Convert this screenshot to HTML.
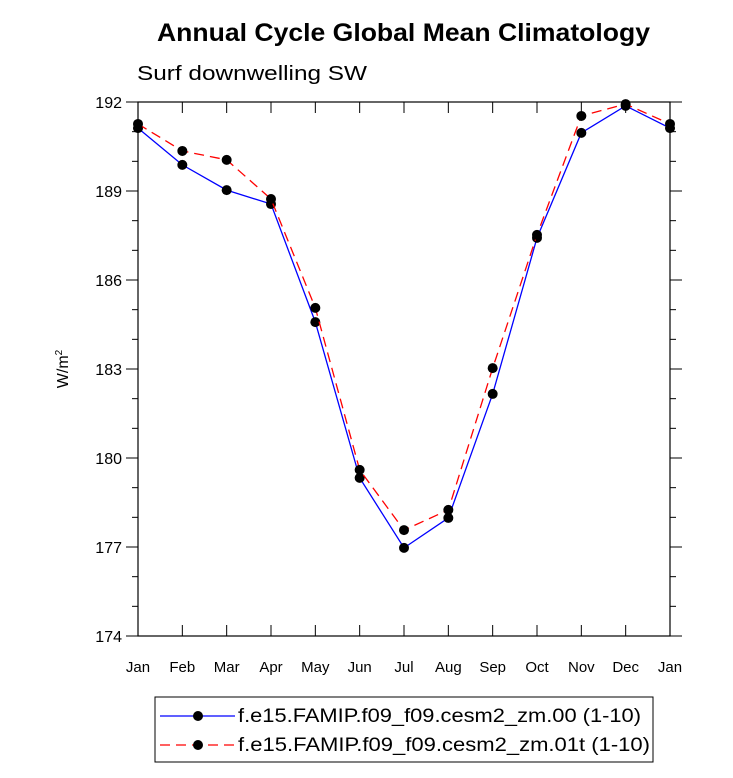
<!DOCTYPE html>
<html><head><meta charset="utf-8"><style>
body{margin:0;background:#fff;}
svg text{font-family:"Liberation Sans",sans-serif;fill:#000;}
</style></head><body>
<svg id="c" width="733" height="773" xmlns="http://www.w3.org/2000/svg">
<text x="157" y="41" font-size="25" font-weight="bold" textLength="493" lengthAdjust="spacingAndGlyphs">Annual Cycle Global Mean Climatology</text>
<text x="137" y="80" font-size="20" textLength="230" lengthAdjust="spacingAndGlyphs">Surf downwelling SW</text>
<text transform="translate(68,369) rotate(-90)" text-anchor="middle" font-size="16">W/m<tspan font-size="10" dy="-6">2</tspan></text>
<g id="axes"></g>
<g id="series"></g>
<rect x="155" y="697" width="498" height="65" fill="none" stroke="#000" stroke-width="1"/>
<line x1="160" y1="716" x2="235" y2="716" stroke="#00f" stroke-width="1.3"/>
<circle cx="198" cy="716" r="5" fill="#000"/>
<text x="238" y="722" font-size="19" textLength="403" lengthAdjust="spacingAndGlyphs">f.e15.FAMIP.f09_f09.cesm2_zm.00 (1-10)</text>
<line x1="160" y1="745" x2="235" y2="745" stroke="#f00" stroke-width="1.3" stroke-dasharray="10,6"/>
<circle cx="198" cy="745" r="5" fill="#000"/>
<text x="238" y="751" font-size="19" textLength="412" lengthAdjust="spacingAndGlyphs">f.e15.FAMIP.f09_f09.cesm2_zm.01t (1-10)</text>
</svg>
<script>
const months=["Jan","Feb","Mar","Apr","May","Jun","Jul","Aug","Sep","Oct","Nov","Dec","Jan"];
const series00=[191.12,189.88,189.03,188.56,184.58,179.33,176.97,177.98,182.16,187.42,190.96,191.87,191.12];
const series01t=[191.26,190.35,190.05,188.73,185.06,179.6,177.57,178.25,183.03,187.52,191.53,191.93,191.26];
const yTicks=[174,177,180,183,186,189,192];
const X0=138,X1=670,Y0=636,Y1=102,ymin=174,ymax=192;
const xs=i=>X0+(X1-X0)*i/(months.length-1);
const ys=v=>Y0-(Y0-Y1)*(v-ymin)/(ymax-ymin);
const NS="http://www.w3.org/2000/svg";
function mk(t,a,p){const e=document.createElementNS(NS,t);for(const k in a)e.setAttribute(k,a[k]);p.appendChild(e);return e;}
const ax=document.getElementById('axes');
const fr=mk('rect',{x:X0,y:Y1,width:X1-X0,height:Y0-Y1,fill:'none',stroke:'#000','stroke-width':1.2},ax);


for(let v=ymin;v<=ymax;v++){
  const y=ys(v),major=(v-ymin)%3===0,L=major?12:6;
  const t1=mk('line',{x1:X0-L,y1:y,x2:X0,y2:y,stroke:'#000','stroke-width':1},ax);
  
  
  const t2=mk('line',{x1:X1,y1:y,x2:X1+L,y2:y,stroke:'#000','stroke-width':1},ax);
  
  
}
yTicks.forEach(v=>{
  const t=mk('text',{x:X0-16,y:ys(v)+6,'text-anchor':'end','font-size':16},ax);
  t.textContent=v;
  
  
});
months.forEach((m,i)=>{
  const x=xs(i);
  const a=mk('line',{x1:x,y1:Y1,x2:x,y2:Y1+11,stroke:'#000','stroke-width':1},ax);
  
  
  const b=mk('line',{x1:x,y1:Y0,x2:x,y2:Y0-11,stroke:'#000','stroke-width':1},ax);
  
  
  const t=mk('text',{x:x,y:Y0+36,'text-anchor':'middle','font-size':15},ax);
  t.textContent=m;
  
  
});
const sg=document.getElementById('series');
function draw(vals,color,dash,name){
  const pts=vals.map((v,i)=>xs(i)+','+ys(v)).join(' ');
  const pl=mk('polyline',{points:pts,fill:'none',stroke:color,'stroke-width':1.3,'stroke-dasharray':dash},sg);
  
  
  vals.forEach((v,i)=>{
    const c=mk('circle',{cx:xs(i),cy:ys(v),r:5,fill:'#000'},sg);
    
    
  });
}
draw(series00,'#00f','none','series-00');
draw(series01t,'#f00','10,6','series-01t');
</script>
</body></html>
